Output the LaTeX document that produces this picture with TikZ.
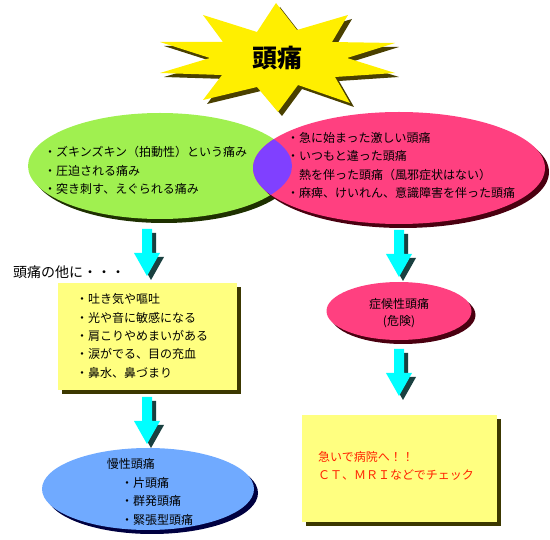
\documentclass[tikz,border=0pt]{standalone}
\usepackage{fontspec}
\setmainfont{Noto Sans CJK JP}
\usetikzlibrary{shapes.geometric, shadows}
\definecolor{starY}{HTML}{FFEF00}
\definecolor{starS}{HTML}{4A4000}
\definecolor{leafG}{HTML}{A0F050}
\definecolor{leafS}{HTML}{1E3000}
\definecolor{rosePk}{HTML}{FF4080}
\definecolor{roseS}{HTML}{4A0010}
\definecolor{mixV}{HTML}{8040FF}
\definecolor{memoY}{HTML}{FFFF80}
\definecolor{memoS}{HTML}{3C3800}
\definecolor{skyB}{HTML}{70AAFF}
\definecolor{skyS}{HTML}{000040}
\definecolor{arrC}{HTML}{00FFFF}
\definecolor{arrS}{HTML}{1A4040}
\definecolor{alertR}{HTML}{FF2000}
\def\burstpath{(276,3) -- (297,30) -- (348,15) -- (332,42) -- (395,43) -- (347,58) -- (395,73) -- (335,77) -- (350,103) -- (298,85) -- (278,112) -- (257,87) -- (203,100) -- (222,75) -- (160,73) -- (210,58) -- (160,42) -- (223,42) -- (203,15) -- (257,32) -- cycle}
\def\arrowpath{(-5,0) -- (5,0) -- (5,24) -- (13,24) -- (0,47) -- (-13,24) -- (-5,24) -- cycle}

\begin{document}
\begin{tikzpicture}[x=1pt, y=-1pt,
    castshadow/.style={drop shadow={shadow xshift=4pt, shadow yshift=-4pt, opacity=1, fill=#1}},
    blob/.style={ellipse, inner sep=0pt, minimum width=#1},
    memo/.style={rectangle, fill=memoY, inner sep=0pt, castshadow=memoS},
    bodytext/.style={anchor=west, align=left, inner sep=0pt, font=\fontsize{12}{#1}\selectfont}]
    \useasboundingbox (0,0) rectangle (550,540);

    % star
    \fill[starS, shift={(4,4)}] \burstpath;
    \fill[starY] \burstpath;
    \node[inner sep=0pt, font=\fontsize{25}{25}\selectfont\bfseries] (head) at (277,58) {頭痛};

    % two kinds of pain
    \node[blob=264pt, minimum height=106pt, fill=leafG, castshadow=leafS] (pain) at (160,166) {};
    \node[blob=292pt, minimum height=112pt, fill=rosePk, castshadow=roseS] (danger) at (399,168) {};
    \begin{scope}
      \clip (pain.center) ellipse [x radius=132, y radius=53];
      \fill[mixV] (danger.center) ellipse [x radius=146, y radius=56];
    \end{scope}
    \node[bodytext=18.7] (painTxt) at (44,170.5)
      {・ズキンズキン（拍動性）という痛み\\・圧迫される痛み\\・突き刺す、えぐられる痛み};
    \node[bodytext=18.3] (dangerTxt) at (287,165.5)
      {・急に始まった激しい頭痛\\・いつもと違った頭痛\\\phantom{・}熱を伴った頭痛（風邪症状はない）\\・麻痺、けいれん、意識障害を伴った頭痛};

    \foreach \ax/\ay in {147/229, 399/230, 147/397, 399/349} {
      \fill[arrS, shift={(\ax+4,\ay+4)}] \arrowpath;
      \fill[arrC, shift={(\ax,\ay)}] \arrowpath;
    }

    % left branch
    \node[anchor=west, inner sep=0pt, font=\fontsize{14}{14}\selectfont] (besides) at (13,271.7) {頭痛の他に・・・};
    \node[memo, minimum width=179pt, minimum height=107pt] (extra) at (147.5,336.5) {};
    \node[bodytext=18.4] (extraTxt) at (76,336)
      {・吐き気や嘔吐\\・光や音に敏感になる\\・肩こりやめまいがある\\・涙がでる、目の充血\\・鼻水、鼻づまり};
    \node[blob=212pt, minimum height=82pt, fill=skyB, castshadow=skyS] (chronic) at (148,489) {};
    \node[bodytext=18.7] (chronicTxt) at (106.7,492)
      {慢性頭痛\\\hspace*{14.3pt}・片頭痛\\\hspace*{14.3pt}・群発頭痛\\\hspace*{14.3pt}・緊張型頭痛};

    % right branch
    \node[blob=145pt, minimum height=58pt, fill=rosePk, castshadow=roseS] (warn) at (399,311) {};
    \node[align=center, inner sep=0pt, font=\fontsize{12}{17.7}\selectfont] (warnTxt) at (399,313) {症候性頭痛\\(危険)};
    \node[memo, minimum width=195pt, minimum height=107pt] (hospital) at (399.5,468.5) {};
    \node[bodytext=18.3, text=alertR] (hospitalTxt) at (318,466)
      {急いで病院へ！！\\ＣＴ、ＭＲＩなどでチェック};
\end{tikzpicture}
\end{document}
